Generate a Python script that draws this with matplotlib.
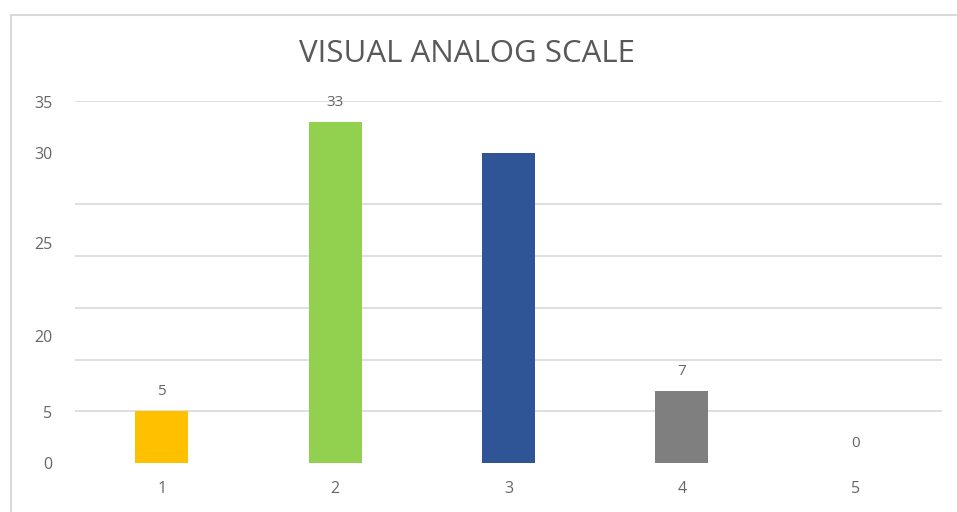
import matplotlib
matplotlib.use("Agg")
import matplotlib.pyplot as plt
from matplotlib.lines import Line2D

categories = ["1", "2", "3", "4", "5"]
values = [5, 33, 30, 7, 0]
bar_labels = ["5", "33", "", "7", "0"]
colors = ["#FFC000", "#92D050", "#2F5597", "#7F7F7F", "#A5A5A5"]
ytick_labels = ["0", "5", "20", "25", "30", "35"]
ytick_label_pos = [0, 4.95, 12.3, 21.3, 30, 34.95]
grid_levels = [0, 5, 10, 15, 20, 25, 30, 35]
title = "VISUAL ANALOG SCALE"

plt.rcParams['font.family'] = ['Open Sans', 'DejaVu Sans']
W, H = 957, 512
fig = plt.figure(figsize=(W / 100, H / 100), dpi=100)
ax = fig.add_axes([75 / W, 1 - 463 / H, (942 - 75) / W, (463 - 101) / H])

x = list(range(1, len(categories) + 1))
ax.bar(x, values, width=0.306, color=colors, zorder=3)
for xi, v, lab in zip(x, values, bar_labels):
    if lab:
        ax.annotate(lab, (xi, v), xytext=(0, 14), textcoords="offset points",
                    ha="center", va="center", fontsize=11, color="#666666", zorder=4)

ax.set_xlim(0.5, 5.5)
ax.set_ylim(0, 35)
ax.set_xticks(x)
ax.set_xticklabels(categories)
ax.set_yticks(ytick_label_pos)
ax.set_yticklabels(ytick_labels)
ax.set_yticks(grid_levels, minor=True)
ax.tick_params(axis="both", which="both", length=0, labelsize=11.5, colors="#666666")
ax.tick_params(axis="y", pad=16.5)
ax.tick_params(axis="x", pad=13)
ax.grid(False)
ax.grid(True, which="minor", axis="y", color="#D9D9D9", linewidth=1.2, zorder=0)
for s in ax.spines.values():
    s.set_visible(False)

fig.text(467 / W, 1 - 54 / H, title, ha="center", va="center", fontsize=22.5, color="#595959")

fig.add_artist(Line2D([10.5 / W, 10.5 / W], [0, 1 - 14.5 / H], transform=fig.transFigure,
                      color="#D9D9D9", linewidth=1.5))
fig.add_artist(Line2D([10.5 / W, 1], [1 - 14.5 / H, 1 - 14.5 / H], transform=fig.transFigure,
                      color="#D9D9D9", linewidth=1.5))

fig.savefig("out.png", dpi=100)
